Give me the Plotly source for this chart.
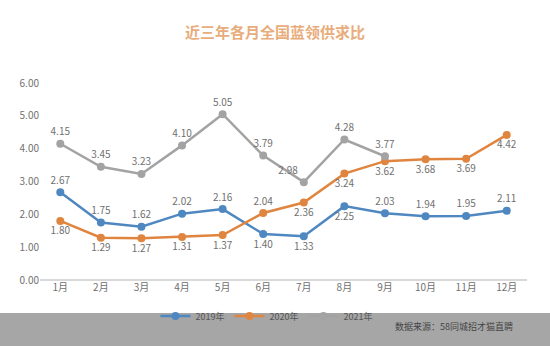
import plotly.graph_objects as go

months = ["1月", "2月", "3月", "4月", "5月", "6月", "7月", "8月", "9月", "10月", "11月", "12月"]
v2019 = [2.67, 1.75, 1.62, 2.02, 2.16, 1.40, 1.33, 2.25, 2.03, 1.94, 1.95, 2.11]
v2020 = [1.80, 1.29, 1.27, 1.31, 1.37, 2.04, 2.36, 3.24, 3.62, 3.68, 3.69, 4.42]
v2021 = [4.15, 3.45, 3.23, 4.10, 5.05, 3.79, 2.98, 4.28, 3.77]

pos2019 = ["top center"] * 5 + ["bottom center", "bottom center", "bottom center"] + ["top center"] * 4
pos2020 = ["bottom center"] * 5 + ["top center"] + ["bottom center"] * 6
pos2021 = ["top center"] * 6 + ["top left"] + ["top center"] * 2

label_font = dict(family="Noto Sans CJK SC", size=10, color="#707070")

fig = go.Figure()
series = [
    ("2019年", v2019, "#4f88c0", pos2019),
    ("2020年", v2020, "#e0853f", pos2020),
    ("2021年", v2021, "#a3a3a3", pos2021),
]
for name, vals, color, pos in series:
    fig.add_trace(go.Scatter(
        x=months[:len(vals)], y=vals, name=name, mode="lines+markers+text",
        line=dict(color=color, width=2.5),
        marker=dict(color=color, size=8),
        text=[f"{v:.2f}" for v in vals], textposition=pos,
        textfont=label_font, cliponaxis=False,
    ))

fig.update_layout(
    width=550, height=346,
    margin=dict(l=40, r=23, t=83, b=66),
    paper_bgcolor="white", plot_bgcolor="white",
    title=dict(text="<b>近三年各月全国蓝领供求比</b>", x=0.5, xanchor="center", y=0.905, yanchor="middle",
               font=dict(family="Noto Sans CJK SC", size=15, color="#e8ad7c")),
    showlegend=True,
    legend=dict(orientation="h", x=0.465, xanchor="center", y=-0.183, yanchor="middle",
                font=dict(family="Noto Sans CJK SC", size=9, color="#555555"),
                bgcolor="rgba(0,0,0,0)", itemwidth=30, tracegroupgap=0),
    xaxis=dict(showgrid=False, showline=False, ticks="", zeroline=False,
               tickfont=dict(family="Noto Sans CJK SC", size=10, color="#707070"),
               range=[-0.5, 11.5]),
    yaxis=dict(range=[0, 6], dtick=1, tickformat=".2f", showgrid=False, zeroline=True,
               zerolinecolor="#d9d9d9", zerolinewidth=1.5,
               tickfont=dict(family="Noto Sans CJK SC", size=10, color="#707070")),
    shapes=[dict(type="rect", xref="paper", yref="paper", x0=-0.09, x1=1.06, y0=-0.1675, y1=-0.34,
                 fillcolor="#a6a6a6", line=dict(width=0), layer="below")],
    annotations=[dict(text="数据来源：58同城招才猫直聘", xref="paper", yref="paper", x=0.725, y=-0.235,
                      xanchor="left", yanchor="middle", showarrow=False,
                      font=dict(family="Noto Sans CJK SC", size=9, color="#444444"))],
)

fig.write_html("out.html")
